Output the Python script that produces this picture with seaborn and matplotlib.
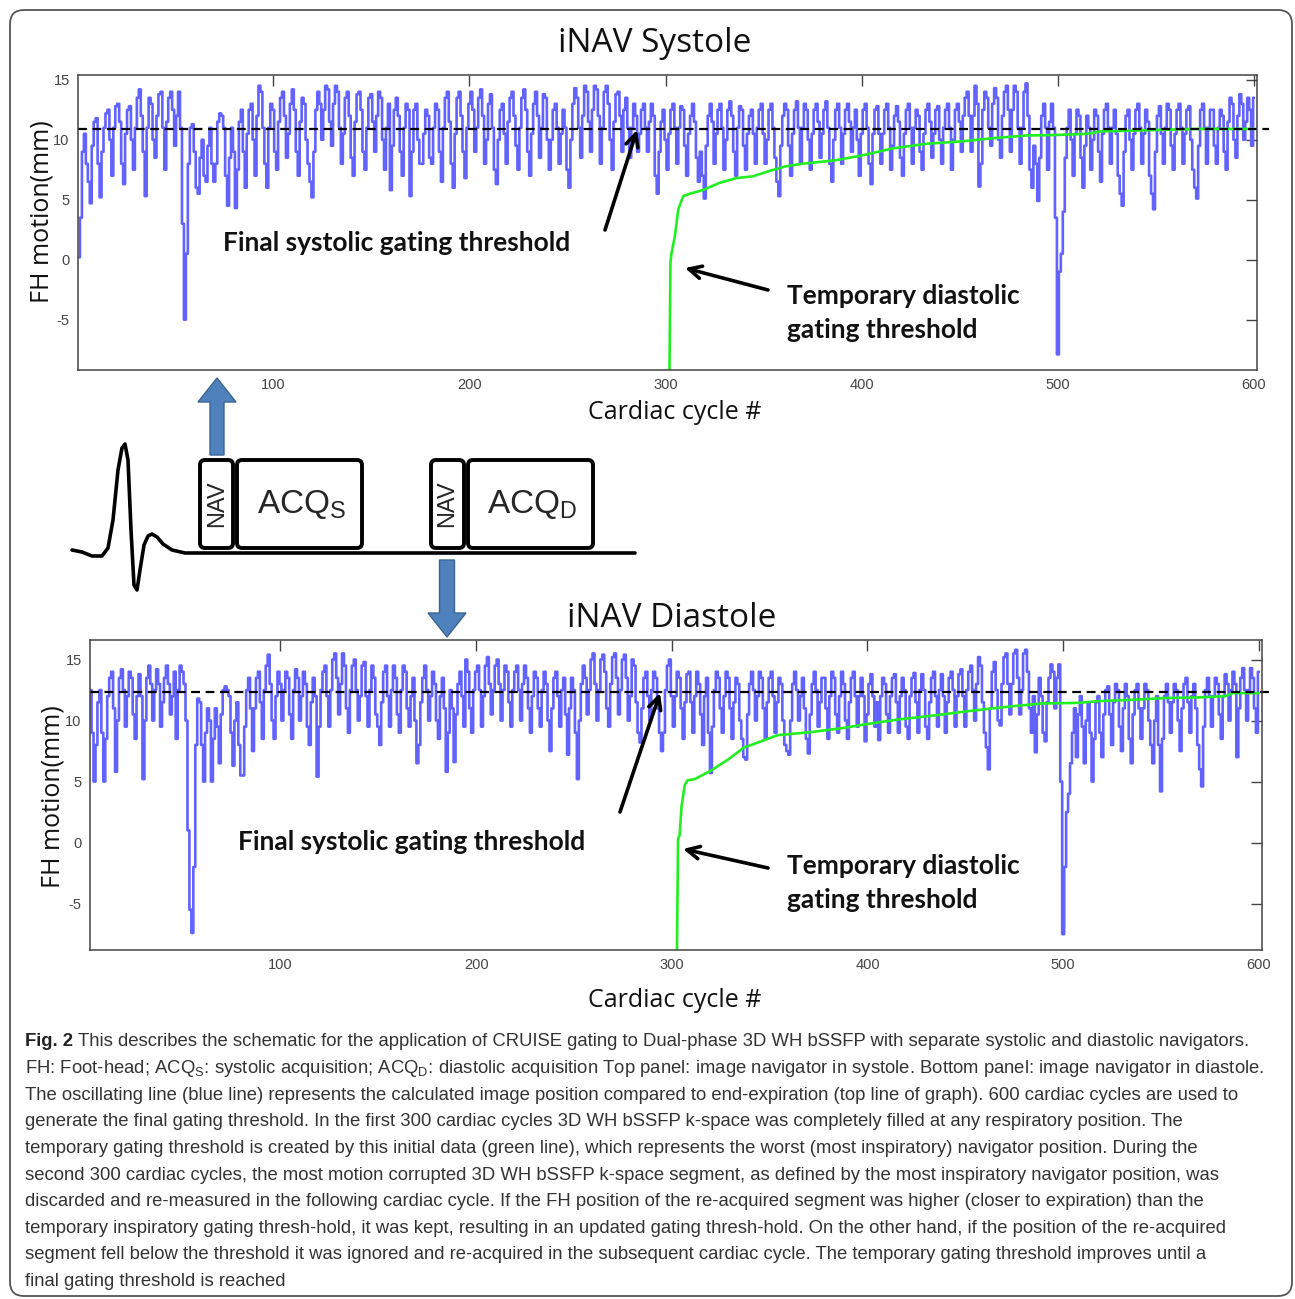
import numpy as np
import pandas as pd
import seaborn as sns
import matplotlib.pyplot as plt
from matplotlib.patches import FancyBboxPatch, FancyArrow

W, H = 1295, 1299

# Blue navigator trace, systole (FH position in mm per cardiac cycle)
SYS_FH_001_100 = [
    0.2, 3.5, 9.0, 10.5, 8.0, 6.5, 4.7, 9.5, 11.5, 11.8,
    8.0, 5.2, 9.0, 11.0, 12.2, 12.5, 10.0, 7.0, 11.0, 12.8,
    13.0, 11.5, 8.0, 6.3, 10.5, 12.5, 12.8, 10.0, 7.5, 11.0,
    13.5, 14.2, 12.0, 9.0, 5.3, 11.0, 13.5, 13.0, 10.0, 8.5,
    12.0, 13.8, 14.0, 11.0, 7.5, 11.5, 13.5, 14.0, 12.5, 9.5,
    12.0, 14.0, 11.0, 3.0, -5.0, 0.5, 8.0, 11.0, 11.3, 9.0,
    6.0, 5.5, 8.5, 10.0, 7.0, 6.5, 9.5, 11.0, 8.0, 6.5,
    8.0, 11.5, 12.2, 12.0, 11.0, 7.0, 4.5, 8.5, 11.0, 9.0,
    4.3, 7.5, 11.5, 12.5, 9.0, 6.0, 10.5, 12.5, 13.0, 10.0,
    7.0, 12.0, 14.5, 14.0, 11.0, 8.0, 6.0, 11.0, 13.0, 12.5,
]
SYS_FH_101_200 = [
    9.0, 7.5, 11.5, 13.5, 14.0, 12.0, 8.5, 10.5, 13.0, 14.2,
    12.5, 9.0, 7.0, 11.5, 13.5, 13.0, 10.0, 8.0, 6.5, 5.2,
    9.0, 12.5, 14.0, 13.0, 10.0, 12.5, 14.5, 14.2, 11.5, 9.5,
    13.0, 14.5, 14.0, 11.0, 8.0, 10.5, 13.5, 14.0, 12.0, 8.5,
    7.0, 11.5, 13.8, 14.0, 12.5, 9.0, 7.5, 11.0, 13.5, 13.8,
    11.5, 9.0, 12.0, 14.0, 13.5, 10.0, 7.5, 11.0, 13.0, 5.8,
    9.5, 12.5, 13.5, 12.0, 9.0, 7.0, 11.0, 13.0, 12.5, 5.3,
    9.0, 12.5, 13.0, 10.0, 8.0, 8.0, 10.5, 12.5, 12.0, 8.5,
    8.0, 11.0, 13.0, 12.5, 9.0, 6.5, 11.0, 13.5, 14.0, 11.5,
    8.0, 6.0, 10.5, 13.5, 14.0, 12.0, 9.0, 6.8, 11.0, 13.0,
]
SYS_FH_201_300 = [
    14.0, 12.5, 9.0, 11.0, 13.5, 14.2, 12.0, 8.0, 10.0, 13.0,
    13.8, 11.0, 7.5, 6.3, 10.0, 12.5, 13.0, 10.5, 8.0, 11.5,
    13.5, 14.0, 12.0, 9.5, 7.5, 11.0, 13.5, 14.2, 12.5, 9.0,
    7.0, 10.5, 13.0, 14.0, 12.0, 8.5, 11.0, 13.8, 13.5, 10.0,
    7.5, 10.0, 12.5, 13.0, 11.0, 8.0, 10.5, 12.5, 11.0, 7.5,
    6.0, 10.0, 13.0, 14.3, 13.5, 11.0, 8.5, 12.0, 14.5, 14.0,
    11.5, 9.0, 12.5, 14.5, 14.2, 12.0, 8.0, 11.0, 14.0, 14.5,
    13.0, 10.0, 7.5, 11.5, 13.8, 14.0, 12.0, 9.0, 12.5, 13.5,
    11.0, 8.5, 11.0, 13.0, 12.0, 9.0, 10.5, 12.5, 13.0, 11.0,
    9.0, 11.5, 13.0, 12.0, 7.0, 5.5, 9.0, 11.5, 12.5, 10.0,
]
SYS_FH_301_400 = [
    7.5, 10.5, 12.5, 13.0, 11.0, 8.0, 11.0, 12.8, 12.5, 9.5,
    7.0, 10.5, 12.0, 13.0, 11.5, 8.5, 6.5, 9.0, 7.0, 5.1,
    9.5, 12.0, 13.0, 11.5, 8.0, 10.5, 12.5, 13.0, 11.0, 7.5,
    10.0, 12.5, 13.2, 12.0, 9.0, 7.0, 11.0, 12.8, 12.5, 9.5,
    7.5, 10.5, 12.0, 12.5, 10.5, 8.0, 11.0, 12.5, 13.0, 10.5,
    8.0, 10.0, 12.5, 13.0, 11.0, 8.5, 6.5, 5.3, 9.5, 12.0,
    13.0, 12.5, 9.5, 7.0, 10.5, 12.5, 13.2, 11.0, 8.0, 11.0,
    13.0, 12.5, 10.0, 7.5, 10.5, 12.5, 13.0, 11.5, 8.5, 10.5,
    12.5, 13.2, 11.0, 8.0, 6.5, 10.0, 12.5, 13.0, 11.0, 8.0,
    10.5, 12.5, 13.0, 11.5, 9.0, 11.0, 12.5, 10.0, 7.0, 10.5,
]
SYS_FH_401_500 = [
    12.5, 13.0, 11.0, 8.0, 6.3, 10.5, 12.5, 12.8, 10.5, 8.0,
    10.5, 12.5, 13.0, 11.0, 7.5, 9.5, 12.0, 12.8, 11.5, 8.5,
    7.0, 10.5, 12.5, 13.0, 11.0, 8.0, 11.0, 12.5, 12.0, 9.0,
    7.5, 10.5, 12.5, 13.0, 11.5, 8.5, 10.5, 12.5, 12.8, 10.0,
    8.0, 11.0, 12.5, 13.0, 11.0, 7.5, 10.0, 12.5, 13.0, 11.5,
    9.0, 12.0, 13.5, 14.0, 12.0, 9.0, 12.0, 14.5, 13.0, 6.1,
    8.0, 12.5, 14.0, 13.5, 11.0, 9.5, 13.0, 14.3, 13.5, 10.0,
    8.5, 12.0, 14.0, 14.5, 12.5, 9.0, 12.5, 14.5, 14.0, 11.0,
    8.0, 11.0, 14.0, 14.7, 12.0, 7.5, 6.0, 9.5, 8.0, 4.9,
    8.5, 12.0, 13.0, 11.0, 7.5, 11.5, 13.0, 11.0, 3.5, -7.9,
]
SYS_FH_501_600 = [
    -1.0, 0.5, 4.0, 8.5, 11.0, 12.5, 10.0, 7.0, 10.5, 12.5,
    12.0, 8.5, 6.0, 9.5, 12.0, 11.0, 7.5, 10.0, 12.5, 12.0,
    9.0, 6.5, 10.5, 12.5, 13.0, 11.0, 8.0, 11.0, 12.5, 10.5,
    7.0, 5.5, 4.5, 9.0, 12.0, 12.5, 10.0, 7.5, 10.5, 12.5,
    13.0, 11.0, 8.0, 10.5, 12.5, 11.5, 7.0, 5.5, 4.2, 9.0,
    12.0, 12.8, 10.5, 8.0, 11.0, 13.0, 12.5, 9.5, 7.5, 10.5,
    12.5, 13.0, 11.0, 8.0, 10.5, 12.5, 12.8, 10.0, 7.5, 6.0,
    5.1, 9.5, 12.5, 13.0, 11.0, 8.0, 11.0, 12.5, 12.5, 9.5,
    8.0, 11.0, 12.5, 12.0, 9.0, 7.5, 11.5, 13.5, 13.0, 10.0,
    8.5, 12.0, 13.8, 13.0, 10.0, 11.5, 13.5, 12.5, 9.5, 13.5,
]

# Blue navigator trace, diastole
DIA_FH_001_100 = [
    7.5, 10.0, 12.5, 9.0, 5.0, 8.0, 11.5, 12.5, 9.0, 5.0,
    8.5, 12.0, 13.5, 14.0, 11.0, 5.8, 10.0, 13.5, 14.2, 12.5,
    9.5, 12.0, 14.0, 13.5, 10.5, 8.5, 12.0, 13.8, 12.0, 5.2,
    10.0, 13.5, 14.5, 13.0, 10.0, 12.5, 14.2, 13.0, 9.5, 11.5,
    13.5, 14.5, 13.0, 10.5, 12.0, 14.0, 8.5, 12.5, 14.5, 14.0,
    13.0, 10.0, 1.0, -5.5, -7.4, -2.0, 8.0, 11.8, 11.5, 8.0,
    5.0, 9.0, 11.0, 10.0, 5.0, 8.5, 11.0, 9.5, 6.5, 10.5,
    12.5, 12.8, 12.5, 12.0, 9.0, 6.3, 10.0, 11.5, 8.0, 5.5,
    5.5, 9.5, 12.5, 13.5, 11.0, 7.5, 11.0, 13.5, 14.0, 11.5,
    8.5, 12.5, 14.5, 15.4, 13.0, 10.0, 8.5, 12.0, 14.0, 13.0,
]
DIA_FH_101_200 = [
    10.0, 12.5, 14.0, 13.5, 10.5, 8.5, 12.5, 14.2, 13.5, 10.0,
    12.0, 14.0, 13.0, 9.5, 8.0, 11.5, 13.5, 12.0, 5.4, 9.5,
    12.5, 14.0, 14.5, 12.0, 9.5, 12.5, 15.0, 15.5, 13.5, 10.5,
    13.0, 15.5, 14.5, 11.0, 9.0, 12.5, 14.5, 15.0, 12.5, 10.0,
    12.0, 14.5, 14.8, 12.0, 9.5, 12.5, 14.5, 13.5, 10.5, 9.5,
    8.0, 11.5, 14.0, 14.5, 12.0, 9.5, 12.5, 14.5, 13.5, 10.5,
    9.0, 12.5, 14.5, 14.0, 11.0, 9.5, 12.0, 13.5, 10.0, 6.5,
    8.0, 11.5, 13.5, 14.5, 12.5, 10.0, 12.0, 14.0, 13.0, 10.0,
    8.5, 12.0, 13.5, 11.0, 5.8, 9.0, 12.5, 11.0, 6.6, 10.5,
    13.0, 14.0, 12.0, 9.5, 15.0, 14.0, 11.0, 9.0, 12.5, 14.0,
]
DIA_FH_201_300 = [
    14.5, 12.5, 9.5, 12.0, 14.5, 15.2, 13.0, 10.5, 12.5, 14.5,
    15.0, 13.0, 10.0, 12.5, 14.5, 14.0, 11.5, 9.5, 12.5, 14.0,
    14.5, 12.5, 10.0, 13.0, 14.5, 13.5, 11.0, 9.0, 12.0, 14.0,
    13.5, 11.0, 9.5, 12.5, 14.0, 13.0, 10.0, 7.5, 11.0, 13.5,
    14.0, 12.0, 9.5, 12.5, 13.5, 10.5, 7.2, 11.0, 13.5, 12.5,
    9.0, 5.2, 10.0, 13.0, 14.5, 13.5, 10.5, 12.5, 15.0, 15.5,
    13.0, 10.0, 12.5, 15.0, 15.4, 14.0, 11.0, 9.5, 13.0, 15.2,
    15.5, 13.5, 10.5, 12.5, 15.0, 15.4, 13.5, 10.0, 12.0, 15.0,
    14.5, 11.5, 9.0, 8.2, 11.0, 13.5, 14.0, 12.0, 10.0, 12.5,
    14.0, 13.5, 11.0, 9.0, 7.5, 9.0, 12.5, 14.5, 15.0, 12.0,
]
DIA_FH_301_400 = [
    9.5, 12.0, 14.0, 13.5, 11.0, 8.5, 11.5, 13.8, 14.0, 11.5,
    9.0, 12.0, 14.0, 13.0, 10.5, 8.0, 12.0, 13.5, 9.0, 5.7,
    9.5, 12.5, 14.0, 13.5, 11.0, 9.0, 12.0, 14.0, 13.5, 11.0,
    8.5, 11.5, 13.5, 13.0, 10.0, 8.5, 7.0, 6.8, 10.5, 13.0,
    14.0, 12.5, 10.0, 12.0, 14.0, 13.5, 11.0, 8.5, 11.5, 13.5,
    14.0, 12.0, 9.0, 11.5, 13.5, 13.0, 10.0, 8.0, 7.5, 7.2,
    10.0, 13.0, 14.0, 12.5, 10.0, 12.0, 13.5, 11.0, 8.5, 7.3,
    10.5, 13.0, 14.0, 12.5, 9.5, 11.5, 13.5, 13.5, 11.0, 8.5,
    12.0, 14.0, 13.5, 10.5, 9.0, 12.0, 14.0, 13.0, 10.0, 8.5,
    11.5, 13.5, 14.0, 12.0, 9.5, 12.0, 13.5, 12.0, 8.3, 10.5,
]
DIA_FH_401_500 = [
    13.0, 13.8, 12.0, 9.5, 11.5, 8.4, 12.0, 13.5, 13.0, 10.5,
    9.0, 12.0, 13.5, 13.8, 11.5, 9.0, 12.0, 13.5, 12.5, 9.5,
    8.5, 12.0, 13.5, 13.9, 11.5, 9.0, 12.5, 13.8, 12.5, 9.5,
    8.5, 11.5, 13.5, 14.0, 12.0, 9.5, 12.5, 13.8, 12.0, 9.0,
    11.5, 13.5, 14.0, 12.5, 9.5, 12.0, 13.8, 14.2, 12.0, 9.5,
    12.5, 14.0, 14.5, 12.5, 10.0, 13.0, 15.2, 14.5, 11.5, 9.0,
    7.8, 6.0, 11.0, 14.0, 14.8, 12.5, 10.0, 9.6, 13.0, 15.2,
    15.5, 13.0, 10.5, 13.0, 15.5, 15.8, 13.5, 10.5, 12.5, 15.5,
    15.8, 14.0, 11.0, 9.0, 12.0, 7.4, 10.5, 13.5, 12.0, 9.0,
    8.3, 11.5, 13.5, 14.6, 14.0, 11.0, 13.5, 14.6, 5.0, -7.5,
]
DIA_FH_501_600 = [
    -2.0, 2.5, 4.0, 6.5, 9.0, 11.0, 7.0, 10.5, 12.0, 9.5,
    6.5, 10.0, 11.5, 9.0, 5.0, 8.5, 11.5, 12.0, 9.0, 7.0,
    10.5, 12.5, 12.8, 10.5, 8.0, 11.5, 13.0, 12.5, 9.5, 7.5,
    11.0, 13.0, 12.0, 8.5, 6.5, 10.5, 12.5, 13.0, 11.0, 8.5,
    11.0, 13.0, 12.5, 10.0, 8.0, 6.5, 10.0, 12.0, 8.0, 4.2,
    8.5, 12.0, 13.0, 11.5, 9.0, 11.5, 13.0, 12.5, 10.0, 7.5,
    11.0, 13.0, 13.5, 11.5, 9.0, 12.0, 13.0, 11.0, 8.0, 6.0,
    4.6, 9.5, 12.5, 13.5, 12.0, 9.5, 12.0, 13.5, 13.0, 10.5,
    8.5, 12.0, 13.8, 13.0, 10.0, 12.5, 14.0, 13.0, 7.0, 11.0,
    13.5, 14.3, 12.5, 10.0, 12.5, 14.3, 13.5, 11.0, 9.0, 14.0,
]

# Green temporary diastolic gating threshold (cycle, mm)
SYS_GREEN_X = [302, 302.5, 303, 304.7, 306.5, 309, 312.4, 319, 327.5, 336,
               344.5, 353, 361.6, 370, 387, 399.5, 416.5, 433.5, 450.5, 459,
               467.5, 484.5, 500, 515, 522, 536, 553, 570, 600]
SYS_GREEN_Y = [-9.5, -0.25, 0.5, 1.9, 4.2, 5.3, 5.5, 5.8, 6.4, 6.8,
               6.95, 7.4, 7.8, 8.0, 8.3, 8.67, 9.3, 9.67, 9.86, 10.0,
               10.14, 10.36, 10.4, 10.5, 10.7, 10.75, 10.83, 10.9, 10.9]
DIA_GREEN_X = [302.6, 303.2, 304, 305, 306.6, 308, 311.7, 320, 328.7, 337,
               345.7, 354, 371, 388, 399.2, 416.3, 433.3, 450.3, 463.9, 475.9,
               489.5, 508, 518.5, 535.5, 552.5, 569.5, 583, 586.5, 600]
DIA_GREEN_Y = [-9.5, 0.3, 0.6, 3.0, 4.7, 5.1, 5.2, 5.9, 6.8, 7.8,
               8.3, 8.8, 9.05, 9.4, 9.7, 10.1, 10.4, 10.75, 11.0, 11.2,
               11.4, 11.45, 11.6, 11.7, 11.85, 11.9, 12.0, 12.25, 12.25]

# Final systolic gating threshold (dashed line), mm
SYS_FINAL = 10.9
DIA_FINAL = 12.3

X_TICKS = [100, 200, 300, 400, 500, 600]
Y_TICKS = [-5, 0, 5, 10, 15]

CAPTION_LINES = [
    "This describes the schematic for the application of CRUISE gating to Dual-phase 3D WH bSSFP with separate systolic and diastolic navigators.",
    "FH: Foot-head; ACQ$_\\mathregular{S}$: systolic acquisition; ACQ$_\\mathregular{D}$: diastolic acquisition Top panel: image navigator in systole. Bottom panel: image navigator in diastole.",
    "The oscillating line (blue line) represents the calculated image position compared to end-expiration (top line of graph). 600 cardiac cycles are used to",
    "generate the final gating threshold. In the first 300 cardiac cycles 3D WH bSSFP k-space was completely filled at any respiratory position. The",
    "temporary gating threshold is created by this initial data (green line), which represents the worst (most inspiratory) navigator position. During the",
    "second 300 cardiac cycles, the most motion corrupted 3D WH bSSFP k-space segment, as defined by the most inspiratory navigator position, was",
    "discarded and re-measured in the following cardiac cycle. If the FH position of the re-acquired segment was higher (closer to expiration) than the",
    "temporary inspiratory gating thresh-hold, it was kept, resulting in an updated gating thresh-hold. On the other hand, if the position of the re-acquired",
    "segment fell below the threshold it was ignored and re-acquired in the subsequent cardiac cycle. The temporary gating threshold improves until a",
    "final gating threshold is reached",
]

BLUE = "#6262ff"
GREEN = "#22ee22"
ARROW_BLUE = "#4f81bd"

sns.set_style("white")
plt.rcParams['font.family'] = ['Open Sans', 'DejaVu Sans']
plt.rcParams['axes.unicode_minus'] = False
TICK_FONT = ['Liberation Sans Narrow', 'Liberation Sans', 'DejaVu Sans']
LABEL_FONT = ['Open Sans', 'DejaVu Sans']
BOLD_FONT = ['Lato', 'DejaVu Sans']
BOX_FONT = ['Liberation Sans', 'DejaVu Sans']

fig = plt.figure(figsize=(W / 100, H / 100), dpi=100)


def px_axes(left, top, right, bottom):
    return fig.add_axes([left / W, 1 - bottom / H, (right - left) / W, (bottom - top) / H])


def draw_panel(ax, fh, gx, gy, final, xlim, ylim):
    df = pd.DataFrame({'cycle': np.arange(1, len(fh) + 1), 'fh': fh})
    sns.lineplot(data=df, x='cycle', y='fh', ax=ax, color=BLUE, lw=1.9,
                 drawstyle='steps-mid', estimator=None, sort=False)
    gdf = pd.DataFrame({'cycle': gx, 'thr': gy})
    sns.lineplot(data=gdf, x='cycle', y='thr', ax=ax, color=GREEN, lw=1.9,
                 estimator=None, sort=False)
    ax.axhline(final, color='black', lw=1.6, ls=(0, (4, 2.5)), xmax=1.01, clip_on=False)
    ax.set_xlim(*xlim)
    ax.set_ylim(*ylim)
    ax.set_xticks(X_TICKS)
    ax.set_yticks(Y_TICKS)
    ax.set_xlabel('')
    ax.set_ylabel('')
    ax.tick_params(direction='in', length=8, width=1, top=True, right=True,
                   colors='#444444', labelsize=10.5, pad=6)
    for lab in ax.get_xticklabels() + ax.get_yticklabels():
        lab.set_family(TICK_FONT)
    for sp in ax.spines.values():
        sp.set_color('#444444')
        sp.set_linewidth(1.1)


ax_top = px_axes(78, 75, 1257, 370)
draw_panel(ax_top,
           SYS_FH_001_100 + SYS_FH_101_200 + SYS_FH_201_300 + SYS_FH_301_400 + SYS_FH_401_500 + SYS_FH_501_600,
           SYS_GREEN_X, SYS_GREEN_Y, SYS_FINAL, (0.5, 601.5), (-9.2, 15.4))

ax_bot = px_axes(90, 640, 1262, 950)
draw_panel(ax_bot,
           DIA_FH_001_100 + DIA_FH_101_200 + DIA_FH_201_300 + DIA_FH_301_400 + DIA_FH_401_500 + DIA_FH_501_600,
           DIA_GREEN_X, DIA_GREEN_Y, DIA_FINAL, (2.7, 601.6), (-8.8, 16.6))

# overlay in pixel coordinates for schematic, annotations and caption
ov = fig.add_axes([0, 0, 1, 1])
ov.set_xlim(0, W)
ov.set_ylim(H, 0)
ov.axis('off')
ov.patch.set_alpha(0)

ov.add_patch(FancyBboxPatch((10, 10), 1282, 1286, boxstyle='round,pad=0,rounding_size=14',
                            fc='none', ec='#555555', lw=1.3))

# titles and axis labels
ov.text(655, 43, 'iNAV Systole', fontsize=24, family=LABEL_FONT, ha='center', va='center', color='#111')
ov.text(672, 618, 'iNAV Diastole', fontsize=24, family=LABEL_FONT, ha='center', va='center', color='#111')
ov.text(42, 212, 'FH motion(mm)', fontsize=18, family=LABEL_FONT, rotation=90, ha='center', va='center', color='#111')
ov.text(53, 797, 'FH motion(mm)', fontsize=18, family=LABEL_FONT, rotation=90, ha='center', va='center', color='#111')
ov.text(675, 412, 'Cardiac cycle #', fontsize=18, family=LABEL_FONT, ha='center', va='center', color='#111')
ov.text(675, 1000, 'Cardiac cycle #', fontsize=18, family=LABEL_FONT, ha='center', va='center', color='#111')

# annotations
arrow_kw = dict(arrowstyle='->,head_length=0.9,head_width=0.45', lw=2.6, color='black',
                shrinkA=0, shrinkB=0)
ov.text(223, 243, 'Final systolic gating threshold', fontsize=19, fontweight='bold',
        family=BOLD_FONT, ha='left', va='center', color='#111')
ov.annotate('', xy=(637, 130), xytext=(605, 230), arrowprops=arrow_kw)
ov.text(787, 313, 'Temporary diastolic\ngating threshold', fontsize=19, fontweight='bold',
        family=BOLD_FONT, ha='left', va='center', color='#111', linespacing=1.5)
ov.annotate('', xy=(685, 268), xytext=(768, 290), arrowprops=arrow_kw)

ov.text(238, 842, 'Final systolic gating threshold', fontsize=19, fontweight='bold',
        family=BOLD_FONT, ha='left', va='center', color='#111')
ov.annotate('', xy=(660, 693), xytext=(620, 812), arrowprops=arrow_kw)
ov.text(787, 883, 'Temporary diastolic\ngating threshold', fontsize=19, fontweight='bold',
        family=BOLD_FONT, ha='left', va='center', color='#111', linespacing=1.5)
ov.annotate('', xy=(683, 849), xytext=(768, 868), arrowprops=arrow_kw)

# schematic: ECG trace and sequence blocks
ECG_X = [72, 82, 92, 102, 108, 113, 118, 122, 125, 128, 131, 134, 137, 140, 144, 148, 152, 157, 163, 172, 185, 200, 635]
ECG_Y = [550, 552, 556, 556, 548, 520, 470, 448, 444, 460, 530, 585, 590, 570, 545, 536, 534, 537, 544, 550, 553, 553, 553]
ov.plot(ECG_X, ECG_Y, color='black', lw=2.6, solid_capstyle='round', solid_joinstyle='round')

for (x0, x1) in [(200, 233), (237, 362), (431, 464), (468, 593)]:
    ov.add_patch(FancyBboxPatch((x0, 460), x1 - x0, 88, boxstyle='round,pad=0,rounding_size=5',
                                fc='white', ec='black', lw=2.8))
ov.text(217, 504, 'NAV', fontsize=17, family=BOX_FONT, rotation=90, ha='center', va='center')
ov.text(447, 504, 'NAV', fontsize=17, family=BOX_FONT, rotation=90, ha='center', va='center')
ov.text(302, 504, 'ACQ$_\\mathregular{S}$', fontsize=24, family=BOX_FONT, ha='center', va='center')
ov.text(532, 504, 'ACQ$_\\mathregular{D}$', fontsize=24, family=BOX_FONT, ha='center', va='center')

ov.add_patch(FancyArrow(217, 455, 0, -77, width=14, head_width=38, head_length=24,
                        length_includes_head=True, fc=ARROW_BLUE, ec='#3a6592', lw=1))
ov.add_patch(FancyArrow(447, 560, 0, 77, width=15, head_width=38, head_length=24,
                        length_includes_head=True, fc=ARROW_BLUE, ec='#3a6592', lw=1))

# caption, fitted to the reference line width (longest line)
renderer = fig.canvas.get_renderer()
probe = ov.text(0, 0, CAPTION_LINES[1], fontsize=10, family=TICK_FONT)
bb = probe.get_window_extent(renderer)
probe.remove()
cap_size = 10 * 1237 / bb.width

y0, dy = 1042, 26.6
fig_lbl = ov.text(25, y0, 'Fig. 2', fontsize=cap_size, family=TICK_FONT, fontweight='bold',
                  ha='left', va='center', color='#222')
lbl_w = fig_lbl.get_window_extent(renderer).width
for i, line in enumerate(CAPTION_LINES):
    x = 25 + (lbl_w + cap_size * 0.35 if i == 0 else 0)
    ov.text(x, y0 + i * dy, line, fontsize=cap_size, family=TICK_FONT,
            ha='left', va='center', color='#333')

fig.savefig('out.png', dpi=100)
